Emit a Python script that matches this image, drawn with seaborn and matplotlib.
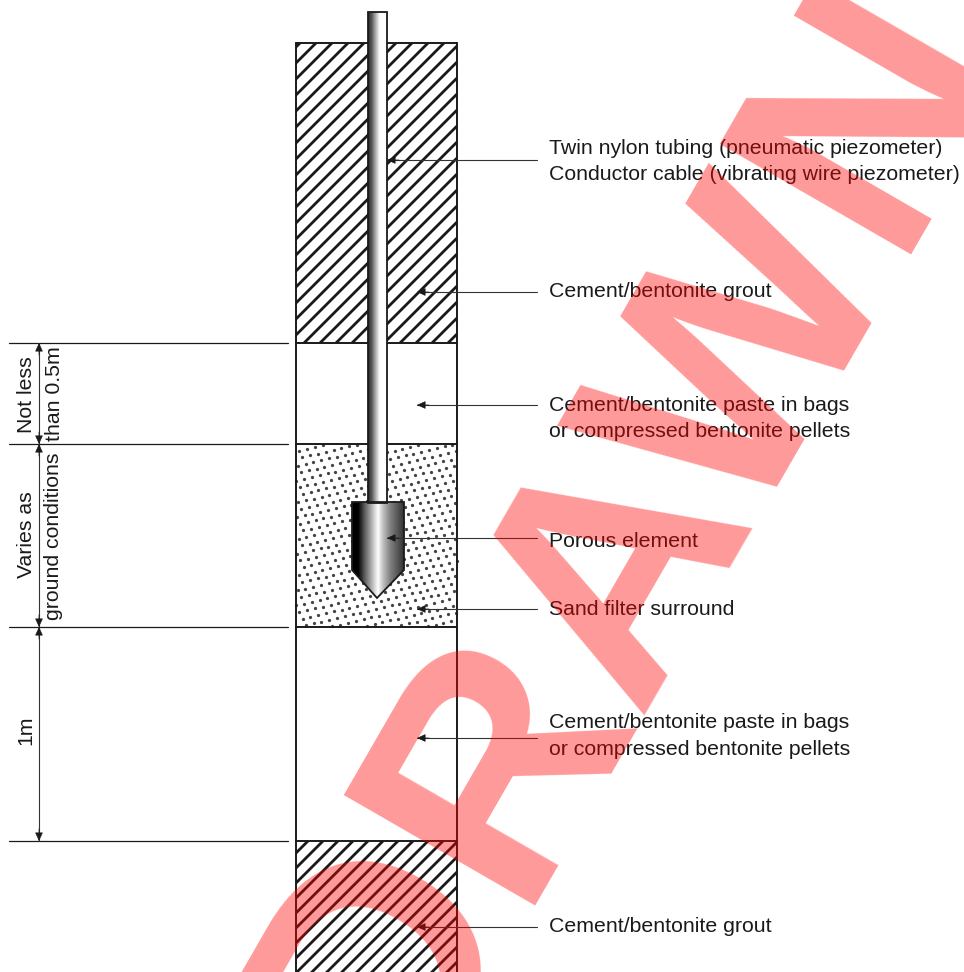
import numpy as np
import pandas as pd
import matplotlib
matplotlib.use('Agg')
import matplotlib.pyplot as plt
from matplotlib.patches import Rectangle, Polygon
from matplotlib.colors import LinearSegmentedColormap
import seaborn as sns

sns.set_theme(style='white')
plt.rcParams['font.family'] = ['Liberation Sans', 'DejaVu Sans']

W, H = 964, 972

# borehole layers, px from top
bore_left, bore_right = 296, 457
layer_tops = [43, 343, 444, 627, 841]
layer_bottoms = [343, 444, 627, 841, 980]

# dimension lines on the left
dim_levels = [343, 444, 627, 841]

# callouts
leader_y = [160, 292, 405, 538, 609, 738, 927]
leader_tip = [387, 417, 417, 387, 417, 417, 417]
label_y = [148, 175, 291, 405, 431, 541, 609, 722, 749, 926]
label_text = ['Twin nylon tubing (pneumatic piezometer)',
              'Conductor cable (vibrating wire piezometer)',
              'Cement/bentonite grout',
              'Cement/bentonite paste in bags',
              'or compressed bentonite pellets',
              'Porous element',
              'Sand filter surround',
              'Cement/bentonite paste in bags',
              'or compressed bentonite pellets',
              'Cement/bentonite grout']

dim_text = ['Not less', 'than 0.5m', 'Varies as', 'ground conditions', '1m']
dim_text_x = [26, 54, 26, 54, 26]
dim_text_y = [395, 394, 535, 536, 730]

grey_pos = [0, .12, .24, .38, .5, .6, .74, 1]
grey_val = [0, 0, .35, .7, 1, .75, .5, .2]
pipe_pos = [0, .2, .45, .62, 1]
pipe_val = [.15, .35, .75, 1, 1]

fig = plt.figure(figsize=(W / 100, H / 100), dpi=100)
ax = fig.add_axes([0, 0, 1, 1])

# grout blocks, hatch lines drawn by hand so spacing can follow the drawing
def grout(top, bottom, start, step):
    rect = Rectangle((bore_left, top), bore_right - bore_left, bottom - top,
                     fc='white', ec='none', zorder=1)
    ax.add_patch(rect)
    for c in np.arange(start % step, bore_right + bottom + step, step):
        ln, = ax.plot([c - bottom, c - top], [bottom, top], color='k', lw=2.0, zorder=2)
        ln.set_clip_path(rect)

grout(layer_tops[0], layer_bottoms[0], 359, 16)
grout(layer_tops[4], layer_bottoms[4], 1149, 15)

# sand layer, stipple on a skewed lattice
i, j = np.meshgrid(np.arange(-40, 80), np.arange(-40, 80))
sx = bore_left + 7.8 * i + 3.2 * j
sy = layer_tops[2] - 1.8 * i + 6.6 * j
keep = (sx > bore_left) & (sx < bore_right) & (sy > layer_tops[2]) & (sy < layer_bottoms[2])
sand = pd.DataFrame({'x': sx[keep], 'y': sy[keep]})
sns.scatterplot(data=sand, x='x', y='y', color='#444444', s=5.5, linewidth=0, ax=ax, zorder=1)

# borehole outline
ax.plot([bore_left, bore_left], [43, H], color='k', lw=1.4, zorder=3)
ax.plot([bore_right, bore_right], [43, H], color='k', lw=1.4, zorder=3)
for y in layer_tops:
    ax.plot([bore_left, bore_right], [y, y], color='k', lw=1.4, zorder=3)

# tubing and porous element with gradient fill
def shaded(xs, ys, pos, val):
    cmap = LinearSegmentedColormap.from_list('g', [(p, (v, v, v)) for p, v in zip(pos, val)])
    poly = Polygon(np.column_stack([xs, ys]), fc='none', ec='k', lw=1.3, zorder=5)
    ax.add_patch(poly)
    im = ax.imshow(np.linspace(0, 1, 256)[None, :], cmap=cmap, aspect='auto', zorder=4,
                   extent=[min(xs), max(xs), max(ys), min(ys)])
    im.set_clip_path(poly)

shaded([368, 387, 387, 368], [12, 12, 503, 503], pipe_pos, pipe_val)
shaded([352, 404, 404, 377, 352], [502, 502, 570, 598, 570], grey_pos, grey_val)

# tick lines and leaders
seg = []
for n, y in enumerate(dim_levels):
    seg += [('t%d' % n, 9, y), ('t%d' % n, 288, y)]
lines = pd.DataFrame(seg, columns=['id', 'x', 'y'])
sns.lineplot(data=lines, x='x', y='y', units='id', estimator=None, sort=False,
             color='k', lw=0.9, ax=ax, zorder=3)

seg = []
for n, (y, tip) in enumerate(zip(leader_y, leader_tip)):
    seg += [('l%d' % n, tip, y), ('l%d' % n, 537, y)]
seg += [('d', 39, dim_levels[0]), ('d', 39, dim_levels[-1])]
lines = pd.DataFrame(seg, columns=['id', 'x', 'y'])
sns.lineplot(data=lines, x='x', y='y', units='id', estimator=None, sort=False,
             color='#333333', lw=0.8, ax=ax, zorder=6)

arrow = dict(arrowstyle='-|>,head_length=0.35,head_width=0.16', color='k', lw=0.5,
             shrinkA=0, shrinkB=0, mutation_scale=15)
for y, tip in zip(leader_y, leader_tip):
    ax.annotate('', xy=(tip, y), xytext=(tip + 12, y), arrowprops=arrow, zorder=7)
for a, b in zip(dim_levels[:-1], dim_levels[1:]):
    ax.annotate('', xy=(39, a), xytext=(39, a + 12), arrowprops=arrow, zorder=7)
    ax.annotate('', xy=(39, b), xytext=(39, b - 12), arrowprops=arrow, zorder=7)

for t, y in zip(label_text, label_y):
    ax.text(549, y, t, fontsize=15.3, color='k', va='center', ha='left', zorder=8)
for t, x, y in zip(dim_text, dim_text_x, dim_text_y):
    ax.text(x, y, t, fontsize=15.3, color='k', rotation=90, va='center', ha='center', zorder=8)

# watermark
ax.text(631, 537, 'DRAWN', fontsize=232, fontweight='bold', color='red', alpha=0.4,
        rotation=60, rotation_mode='anchor', ha='center', va='center', zorder=10)

ax.set_xlim(0, W)
ax.set_ylim(H, 0)
ax.axis('off')
fig.savefig('out.png', dpi=100)
